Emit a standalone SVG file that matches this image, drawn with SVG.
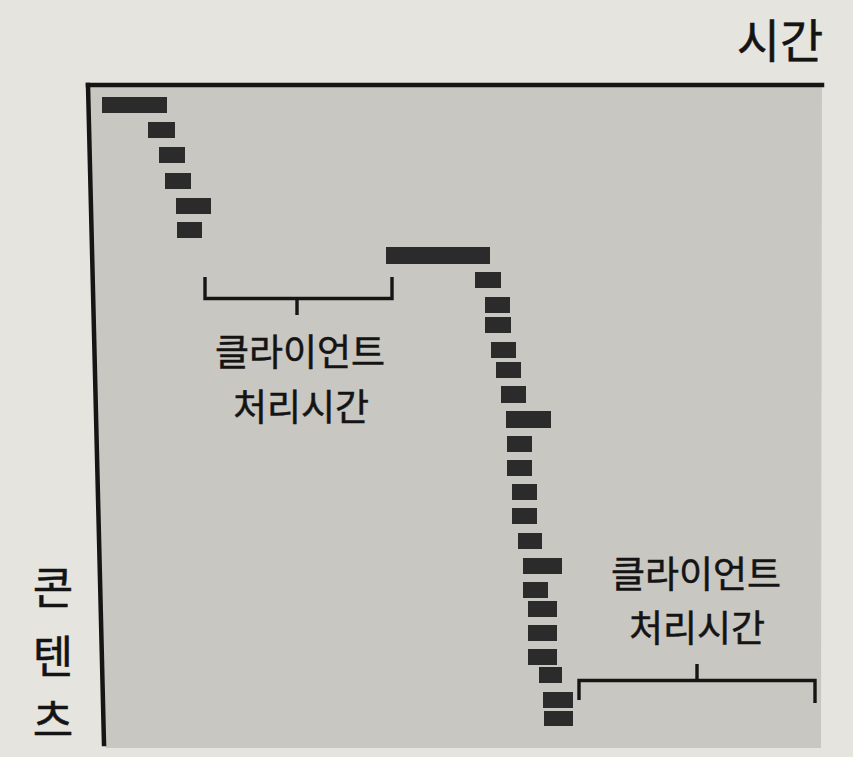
<svg xmlns="http://www.w3.org/2000/svg" width="853" height="757" viewBox="0 0 853 757">
  <style>
    .bar { fill: #2b2b2b; }
    .axis { stroke: #151515; stroke-width: 4.5; fill: none; stroke-linecap: square; }
    .brk { stroke: #151515; stroke-width: 3.4; fill: none; }
    .lbl { font-family: "Noto Sans CJK KR", "Noto Sans", sans-serif; font-weight: 400; fill: #141414; stroke: #141414; stroke-width: 0.5; text-anchor: middle; }
  </style>
  <rect x="0" y="0" width="853" height="757" fill="#e6e4df"/>
  <polygon id="plot-area" points="89,86 822,86 821,748 106,748" fill="#c9c7c1"/>

  <g id="axes">
    <line class="axis" x1="88" y1="85" x2="822" y2="85"/>
    <line class="axis" x1="88" y1="85" x2="104" y2="744"/>
  </g>

  <g id="axis-labels">
    <text id="label-time" class="lbl" x="780" y="58" font-size="47">시간</text>
    <g id="label-content">
      <text class="lbl" x="53" y="604" font-size="44">콘</text>
      <text class="lbl" x="53" y="673" font-size="44">텐</text>
      <text class="lbl" x="53" y="737" font-size="44">츠</text>
    </g>
  </g>

  <g id="requests-1">
    <rect class="bar" x="102" y="97" width="65" height="16"/>
    <rect class="bar" x="148" y="122" width="27" height="16"/>
    <rect class="bar" x="159" y="147" width="26" height="16"/>
    <rect class="bar" x="165" y="173" width="26" height="16"/>
    <rect class="bar" x="176" y="198" width="35" height="16"/>
    <rect class="bar" x="177" y="222" width="25" height="16"/>
  </g>

  <g id="requests-2">
    <rect class="bar" x="386" y="247" width="104" height="17"/>
    <rect class="bar" x="475" y="272" width="26" height="16"/>
    <rect class="bar" x="485" y="297" width="25" height="16"/>
    <rect class="bar" x="485" y="317" width="26" height="16"/>
    <rect class="bar" x="491" y="342" width="25" height="16"/>
    <rect class="bar" x="496" y="362" width="25" height="16"/>
    <rect class="bar" x="501" y="386" width="25" height="17"/>
    <rect class="bar" x="506" y="411" width="45" height="17"/>
    <rect class="bar" x="507" y="436" width="25" height="16"/>
    <rect class="bar" x="507" y="460" width="25" height="16"/>
    <rect class="bar" x="512" y="484" width="25" height="16"/>
    <rect class="bar" x="512" y="508" width="25" height="16"/>
    <rect class="bar" x="518" y="533" width="24" height="16"/>
    <rect class="bar" x="523" y="558" width="39" height="16"/>
    <rect class="bar" x="523" y="582" width="25" height="16"/>
    <rect class="bar" x="528" y="601" width="29" height="16"/>
    <rect class="bar" x="528" y="625" width="29" height="16"/>
    <rect class="bar" x="528" y="649" width="29" height="16"/>
    <rect class="bar" x="539" y="667" width="23" height="16"/>
    <rect class="bar" x="543" y="692" width="30" height="16"/>
    <rect class="bar" x="544" y="711" width="29" height="15"/>
  </g>

  <g id="client-time-1">
    <path class="brk" d="M205,277 V298.5 H392 V277 M297,298.5 V315"/>
    <text class="lbl" x="300" y="366" font-size="37">클라이언트</text>
    <text class="lbl" x="301" y="421" font-size="37">처리시간</text>
  </g>

  <g id="client-time-2">
    <path class="brk" d="M579,700 V680.5 H815 V703 M697,664 V680.5"/>
    <text class="lbl" x="696" y="588" font-size="37">클라이언트</text>
    <text class="lbl" x="697" y="642" font-size="37">처리시간</text>
  </g>
</svg>
